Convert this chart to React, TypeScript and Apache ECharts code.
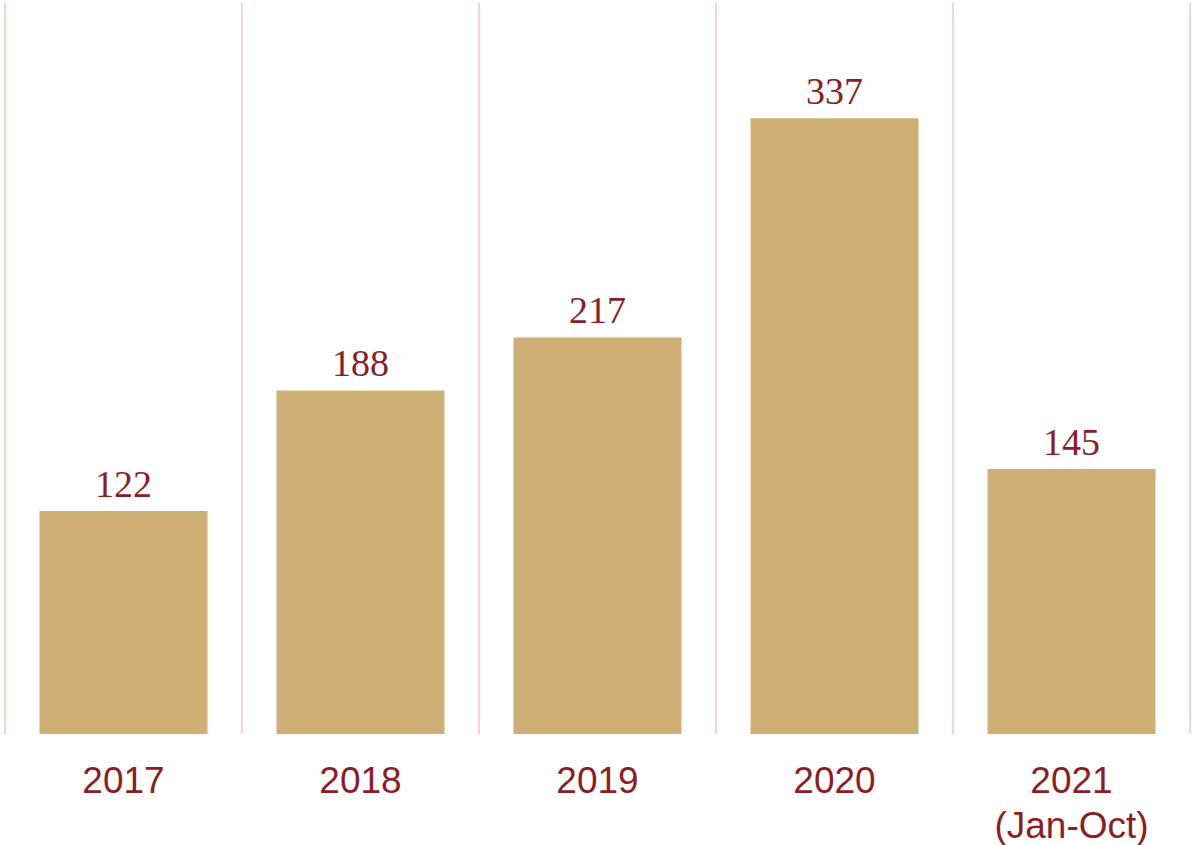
import React, { useEffect, useRef } from "react";
import * as echarts from "echarts";

const categories = ["2017", "2018", "2019", "2020", "2021\n(Jan-Oct)"];
const values = [122, 188, 217, 337, 145];

export default function App() {
  const ref = useRef<HTMLDivElement>(null);
  useEffect(() => {
    const chart = echarts.init(ref.current!, null, { renderer: "svg" });
    chart.setOption({
      animation: false,
      grid: { left: 5, right: 2, top: 3, bottom: 111, containLabel: false, outerBoundsMode: "none" },
      xAxis: {
        type: "category",
        data: categories,
        axisLine: { show: false },
        axisTick: { show: false },
        splitLine: { show: true, lineStyle: { color: "#F7D3D6", width: 2 } },
        axisLabel: {
          color: "#8C1D24",
          fontFamily: "Liberation Sans",
          fontSize: 37,
          margin: 24,
          lineHeight: 45,
          interval: 0,
        },
      },
      yAxis: {
        type: "value",
        min: 0,
        max: 400,
        show: false,
        splitLine: { show: false },
      },
      series: [
        {
          type: "bar",
          data: values,
          barWidth: 168,
          itemStyle: { color: "#CEAF75" },
          label: {
            show: true,
            position: "top",
            distance: 8,
            color: "#8C1D24",
            fontFamily: "Liberation Serif",
            fontSize: 38,
          },
        },
      ],
    });
    return () => chart.dispose();
  }, []);
  return (
    <div
      ref={ref}
      style={{ position: "fixed", left: 0, top: 0, width: 1192, height: 845, background: "#fff" }}
    />
  );
}
